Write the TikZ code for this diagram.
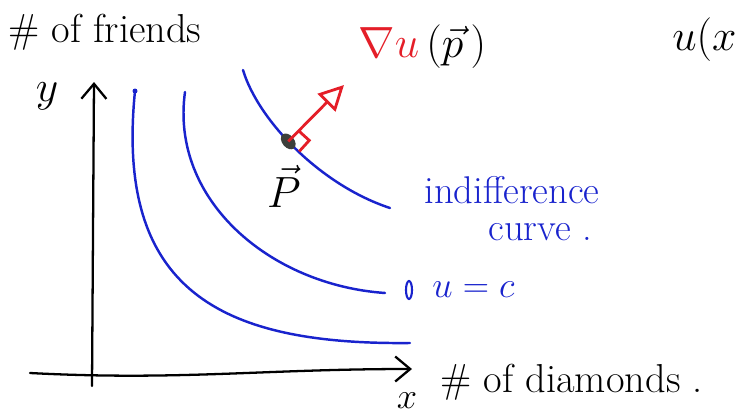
\documentclass[tikz,border=0pt]{standalone}
\usepackage{amsmath,amssymb}
\usepackage{fontspec}
\usepackage{tikz}
\usetikzlibrary{arrows.meta, calc}
\definecolor{penblue}{RGB}{25,35,205}
\definecolor{penred}{RGB}{228,30,40}
\definecolor{dotgray}{RGB}{60,62,58}

\begin{document}
\begin{tikzpicture}[
  x=0.02cm, y=-0.02cm,
  >={Straight Barb[length=3mm, width=5mm]},
  axis/.style={draw, line width=1.3pt, ->, line cap=round},
  curve/.style={draw=penblue, line width=1.4pt, line cap=round},
  lbl/.style={font=\fontsize{23}{26}\selectfont, inner sep=0pt},
  note/.style={lbl, font=\fontsize{22}{25}\selectfont, text=penblue}
]
\useasboundingbox (0,0) rectangle (748,416);

% axes
\coordinate (xstart) at (30,373);
\coordinate (xend) at (412,369);
\coordinate (ystart) at (92,386);
\coordinate (yend) at (94,82);
\draw[axis] (xstart) to[out=-3, in=180] (xend);
\draw[axis] (ystart) -- (yend);
\node[lbl, font=\fontsize{20}{22}\selectfont] (xlab) at (407,401) {$x$};
\node[lbl] (ylab) at (47,96) {$y$};
\node[lbl, anchor=west] (friends) at (8,32) {\# of friends};
\node[lbl, anchor=west] (diamonds) at (440,382) {\# of diamonds .};
\node[lbl, anchor=west, font=\fontsize{27}{30}\selectfont] (ufun) at (672,40) {$u(x$};

% indifference curves
\draw[curve] (135,91) .. controls (115,290) and (220,345) .. (410,343);
\fill[penblue] (135,91) circle (2.5);
\draw[curve] (185,92) .. controls (170,200) and (270,285) .. (385,293);
\draw[curve] (243,70) .. controls (258,120) and (320,185) .. (390,208)
  coordinate[pos=0.45] (p);

% point p and gradient
\fill[dotgray, rotate around={-50:(p)}] (p) ellipse (9 and 6);
\node[lbl] (plab) at (284,186) {$\vec{P}$};
\coordinate (gtip) at (344,85);
\draw[penred, line width=1.6pt, -{Triangle[open, length=5mm, width=5mm]}] (p) -- (gtip);
\draw[penred, line width=1.6pt] ($(p)+(10,-11)$) -- ++(11,10) -- ++(-10,11);
\node[lbl, anchor=west] (grad) at (358,47) {{\color{penred}$\nabla u$}$\,(\vec{p}\,)$};

% labels on the curves
\node[note, anchor=west] (indiff) at (424,190) {indifference};
\node[note, anchor=west] (curvelab) at (488,232) {curve .};
\draw[penblue, line width=1.2pt] (409,290) ellipse (3 and 9);
\node[note, anchor=west] (level) at (432,290) {$u = c$};
\end{tikzpicture}
\end{document}
